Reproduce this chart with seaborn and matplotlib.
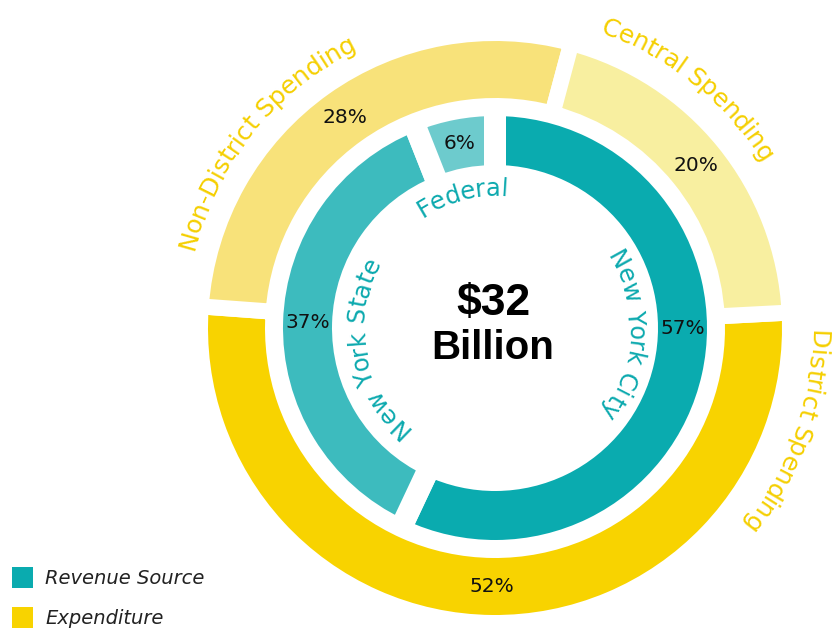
import numpy as np
import matplotlib
matplotlib.use("Agg")
import matplotlib.pyplot as plt
from matplotlib.font_manager import FontProperties, findfont
from matplotlib.ft2font import FT2Font
from matplotlib.patches import Rectangle
import seaborn as sns

# Revenue sources (inner ring)
revenue_labels = ["New York City", "New York State", "Federal"]
revenue_share = [57, 37, 6]
revenue_colors = ["#0AABAF", "#3DBBBE", "#6DCBCD"]

# Expenditures (outer ring)
spend_labels = ["District Spending", "Non-District Spending", "Central Spending"]
spend_share = [52, 28, 20]
spend_colors = ["#F8D300", "#F8E27A", "#F8EFA0"]

total_label = ["$32", "Billion"]
legend_labels = ["Revenue Source", "Expenditure"]

sns.set_theme(style="white")
plt.rcParams["font.family"] = ["DejaVu Sans"]

W, H, DPI = 836, 630, 100
fig = plt.figure(figsize=(W / DPI, H / DPI), dpi=DPI)
ax = fig.add_axes([0, 0, 1, 1])
ax.set_axis_off()

cx, cy = 495, 302
teal_text = "#0BA9AE"
gold_text = "#F5CF00"

# ring geometry (visible radii) and white gap widths in pixels
in_r0, in_r1, in_gap = 163, 212, 22
out_r0, out_r1, out_gap = 230, 287, 16
px2pt = 72 / DPI

# inner ring first so the outer ring's fill sits on top of its edge stroke
ax.pie(revenue_share, colors=revenue_colors, startangle=90, counterclock=False,
       center=(cx, cy), radius=in_r1 + in_gap / 2,
       wedgeprops=dict(width=(in_r1 - in_r0) + in_gap, edgecolor="white",
                       linewidth=in_gap * px2pt))
ax.pie(spend_share, colors=spend_colors, startangle=3, counterclock=False,
       center=(cx, cy), radius=out_r1 + out_gap / 2,
       wedgeprops=dict(width=(out_r1 - out_r0) + out_gap, edgecolor="white",
                       linewidth=out_gap * px2pt))

ax.set_xlim(0, W)
ax.set_ylim(0, H)
ax.set_aspect("equal")


def mid_angles(shares, start):
    shares = np.asarray(shares, float)
    ends = np.cumsum(shares) / shares.sum() * 360
    starts = ends - shares / shares.sum() * 360
    return start - (starts + ends) / 2


pct_font = dict(fontsize=14.5, color="#111111", ha="center", va="center",
                family="DejaVu Sans")

rev_mid = mid_angles(revenue_share, 90)
rev_mid[0] = 0.0  # city share sits on the horizontal axis
for a, v in zip(rev_mid, revenue_share):
    r = (in_r0 + in_r1) / 2
    ax.text(cx + r * np.cos(np.radians(a)), cy + r * np.sin(np.radians(a)),
            f"{v}%", **pct_font)

sp_mid = mid_angles(spend_share, 3)
for a, v in zip(sp_mid, spend_share):
    r = (out_r0 + out_r1) / 2
    ax.text(cx + r * np.cos(np.radians(a)), cy + r * np.sin(np.radians(a)),
            f"{v}%", **pct_font)


def advances(text, prop):
    """Unhinted glyph advances in pixels."""
    font = FT2Font(findfont(prop))
    font.set_size(prop.get_size_in_points(), DPI)
    return np.array([font.load_char(ord(c)).linearHoriAdvance / 65536.0
                     for c in text])


def arc_text(text, radius, center_deg, size, color, tracking=0.0,
             family="DejaVu Sans"):
    """Draw text along a circle, reading clockwise with tops facing outward."""
    prop = FontProperties(family=family, size=size)
    adv = advances(text, prop) + tracking
    total = adv.sum() - tracking
    starts = np.concatenate([[0], np.cumsum(adv)[:-1]])
    for ch, st, a in zip(text, starts, adv):
        s = st + (a - tracking) / 2 - total / 2
        th = np.radians(center_deg) - s / radius
        ax.text(cx + radius * np.cos(th), cy + radius * np.sin(th), ch,
                rotation=np.degrees(th) - 90, rotation_mode="anchor",
                ha="center", va="center", fontproperties=prop, color=color)


arc_text(spend_labels[1], 318, 141, 18, gold_text)
arc_text(spend_labels[2], 320, 51, 18, gold_text)
arc_text(spend_labels[0], 322, -19.5, 18, gold_text)
arc_text(revenue_labels[2], 139, 104, 17.5, teal_text, tracking=0.4)
arc_text(revenue_labels[1], 138, 190, 17.5, teal_text, tracking=0.4)
arc_text(revenue_labels[0], 140, -3, 17.5, teal_text, tracking=0.4)

ax.text(cx - 2, cy + 25, total_label[0], ha="center", va="center",
        fontsize=32, fontweight="bold", family="Liberation Sans", color="black")
ax.text(cx - 2, cy - 20, total_label[1], ha="center", va="center",
        fontsize=29, fontweight="bold", family="Liberation Sans", color="black")

# legend swatches and labels
for i, (lab, col) in enumerate(zip(legend_labels, [revenue_colors[0], spend_colors[0]])):
    y = H - 578 - 40 * i
    ax.add_patch(Rectangle((12, y - 10), 21, 21, color=col, lw=0))
    ax.text(45, y, lab, ha="left", va="center", fontsize=14, style="italic",
            color="#222222")

fig.savefig("out.png", dpi=DPI)
